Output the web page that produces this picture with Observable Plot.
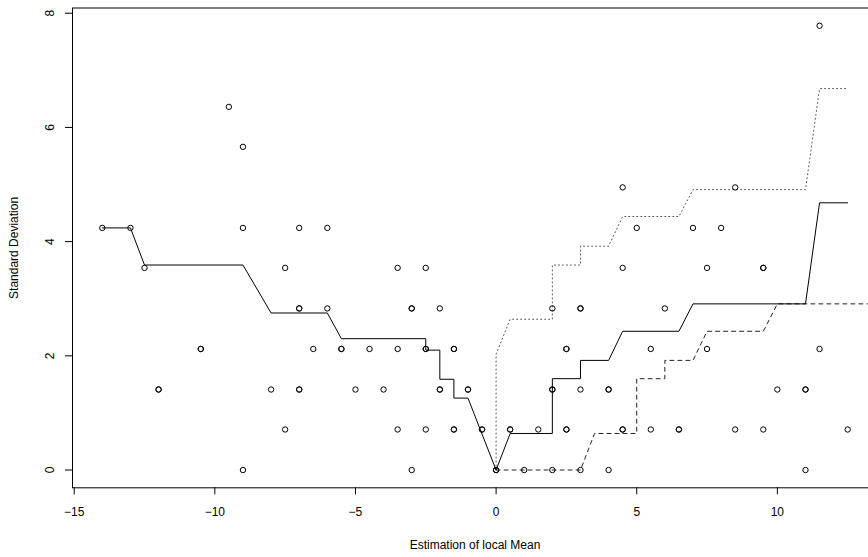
<!DOCTYPE html>
<html>
<head>
<meta charset="utf-8">
<script src="https://cdn.jsdelivr.net/npm/d3@7"></script>
<script src="https://cdn.jsdelivr.net/npm/@observablehq/plot@0.6"></script>
<style>
  html, body { margin: 0; padding: 0; background: #ffffff; overflow: hidden; }
  #chart svg { display: block; }
</style>
</head>
<body>
<div id="chart"></div>
<script>
// Observations: local mean (x) against standard deviation (y); repeated pairs listed twice
const pointX = [
  -14, -13, -12.5, -12, -12, -10.5, -10.5, -9.5, -9, -9, -9, -8,
  -7.5, -7.5, -7, -7, -7, -7, -7, -6.5, -6, -6, -5.5, -5.5, -5, -4.5, -4,
  -3.5, -3.5, -3.5, -3, -3, -3, -2.5, -2.5, -2.5, -2.5, -2, -2, -2,
  -1.5, -1.5, -1.5, -1.5, -1, -1, -0.5, -0.5, 0, 0, 0.5, 0.5, 1, 1.5,
  2, 2, 2, 2, 2.5, 2.5, 2.5, 2.5, 3, 3, 3, 3, 4, 4, 4,
  4.5, 4.5, 4.5, 4.5, 5, 5.5, 5.5, 6, 6.5, 6.5, 7, 7.5, 7.5, 8,
  8.5, 8.5, 9.5, 9.5, 9.5, 10, 11, 11, 11, 11.5, 11.5, 12.5
];
const pointY = [
  4.24, 4.24, 3.54, 1.41, 1.41, 2.12, 2.12, 6.36, 5.66, 4.24, 0, 1.41,
  3.54, 0.71, 4.24, 2.83, 2.83, 1.41, 1.41, 2.12, 4.24, 2.83, 2.12, 2.12, 1.41, 2.12, 1.41,
  3.54, 2.12, 0.71, 2.83, 2.83, 0, 3.54, 2.12, 2.12, 0.71, 2.83, 1.41, 1.41,
  2.12, 2.12, 0.71, 0.71, 1.41, 1.41, 0.71, 0.71, 0, 0, 0.71, 0.71, 0, 0.71,
  2.83, 1.41, 1.41, 0, 2.12, 2.12, 0.71, 0.71, 2.83, 2.83, 1.41, 0, 1.41, 1.41, 0,
  4.95, 3.54, 0.71, 0.71, 4.24, 2.12, 0.71, 2.83, 0.71, 0.71, 4.24, 3.54, 2.12, 4.24,
  4.95, 0.71, 3.54, 3.54, 0.71, 1.41, 1.41, 1.41, 0, 7.78, 2.12, 0.71
];

// Central estimate (solid)
const midX = [-14, -13, -12.5, -9, -8, -6, -5.5, -2.5, -2.5, -2, -2, -1.5, -1.5, -1, 0, 0.5, 2, 2, 3, 3, 4, 4.5, 6.5, 7, 11, 11.5, 12.5];
const midY = [4.24, 4.24, 3.59, 3.59, 2.75, 2.75, 2.30, 2.30, 2.10, 2.10, 1.59, 1.59, 1.26, 1.26, 0, 0.64, 0.64, 1.60, 1.60, 1.92, 1.92, 2.43, 2.43, 2.91, 2.91, 4.68, 4.68];

// Upper bound (dotted)
const upperX = [0, 0, 0.5, 2, 2, 3, 3, 4, 4.5, 6.5, 7, 11, 11.5, 12.5];
const upperY = [0, 2.03, 2.64, 2.64, 3.59, 3.59, 3.92, 3.92, 4.44, 4.44, 4.91, 4.91, 6.68, 6.68];

// Lower bound (dashed)
const lowerX = [0, 3, 3.5, 5, 5, 6, 6, 7, 7.5, 9.5, 10, 13.5];
const lowerY = [0, 0, 0.64, 0.64, 1.60, 1.60, 1.92, 1.92, 2.43, 2.43, 2.91, 2.91];

const xTicks = [-15, -10, -5, 0, 5, 10];
const yTicks = [0, 2, 4, 6, 8];
const xTitle = "Estimation of local Mean";
const yTitle = "Standard Deviation";

const toRows = (xs, ys) => xs.map((x, i) => ({x, y: ys[i]}));
const points = toRows(pointX, pointY);
const mid = toRows(midX, midY);
const upper = toRows(upperX, upperY);
const lower = toRows(lowerX, lowerY);

// R-style 4% padding around the data range
const padX = 0.04 * (d3.max(pointX) - d3.min(pointX));
const padY = 0.04 * (d3.max(pointY) - d3.min(pointY));

const chart = Plot.plot({
  width: 868,
  height: 557,
  marginLeft: 72,
  marginRight: -9,
  marginTop: 7.5,
  marginBottom: 69.7,
  x: {domain: [d3.min(pointX) - padX, d3.max(pointX) + padX]},
  y: {domain: [d3.min(pointY) - padY, d3.max(pointY) + padY]},
  style: {
    fontFamily: "'Liberation Sans', Arial, Helvetica, sans-serif",
    fontSize: "12px",
    background: "#ffffff",
    color: "#000000"
  },
  marks: [
    Plot.frame({stroke: "#000000", strokeWidth: 1}),
    Plot.axisX({ticks: xTicks, tickSize: 7, tickPadding: 13, label: null, fontSize: 12}),
    Plot.axisY({ticks: yTicks, tickSize: 7, tickRotate: -90, tickPadding: 12, label: null, fontSize: 12}),
    Plot.text([xTitle], {frameAnchor: "bottom", lineAnchor: "middle", textAnchor: "middle", dy: 57, fontSize: 12}),
    Plot.text([yTitle], {frameAnchor: "left", lineAnchor: "middle", textAnchor: "middle", rotate: -90, dx: -58, fontSize: 12}),
    Plot.line(upper, {x: "x", y: "y", stroke: "#555555", strokeWidth: 1, strokeDasharray: "1,3", clip: true}),
    Plot.line(lower, {x: "x", y: "y", stroke: "#222222", strokeWidth: 1, strokeDasharray: "4,4", clip: true}),
    Plot.line(mid, {x: "x", y: "y", stroke: "#000000", strokeWidth: 1, clip: true}),
    Plot.dot(points, {x: "x", y: "y", r: 2.7, stroke: "#000000", fill: "none", strokeWidth: 1})
  ]
});

document.getElementById("chart").append(chart);
</script>
</body>
</html>
